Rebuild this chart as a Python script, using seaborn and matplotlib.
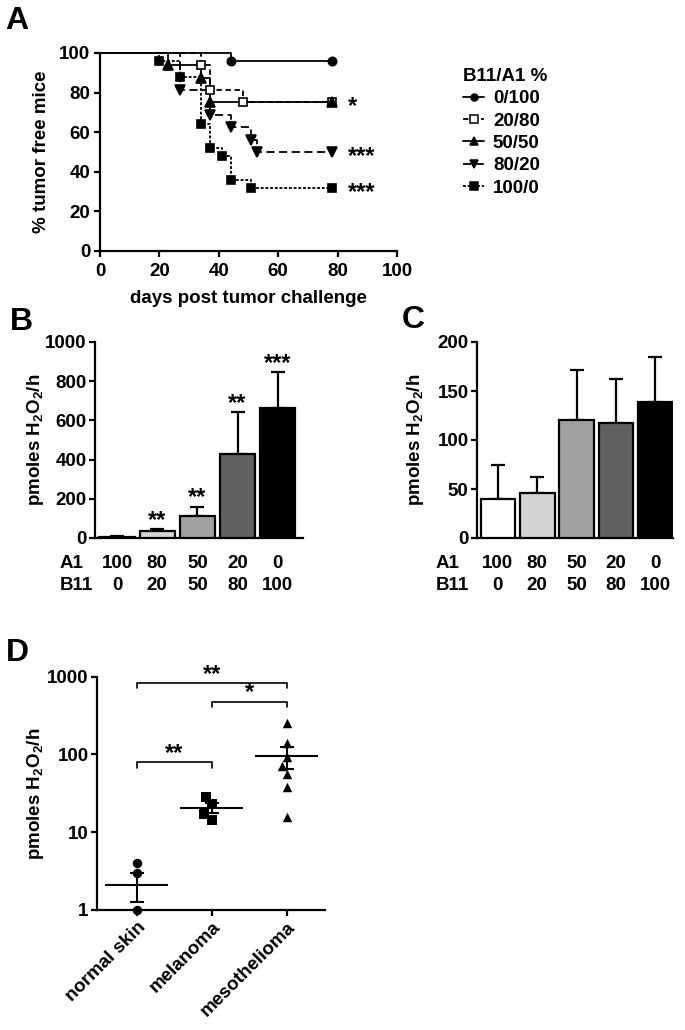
import numpy as np
import pandas as pd
import seaborn as sns
import matplotlib.pyplot as plt
from matplotlib.lines import Line2D

sns.set_style("ticks")
plt.rcParams['font.family'] = ['Liberation Sans', 'DejaVu Sans']
plt.rcParams['font.weight'] = 'bold'
plt.rcParams['axes.labelweight'] = 'bold'
plt.rcParams['mathtext.fontset'] = 'custom'
plt.rcParams['mathtext.rm'] = 'Liberation Sans:bold'
plt.rcParams['mathtext.default'] = 'rm'
for k in ['axes.edgecolor', 'text.color', 'axes.labelcolor', 'xtick.color', 'ytick.color']:
    plt.rcParams[k] = 'black'
plt.rcParams['axes.linewidth'] = 1.6
plt.rcParams['xtick.major.width'] = 1.6
plt.rcParams['ytick.major.width'] = 1.6
plt.rcParams['xtick.major.size'] = 4
plt.rcParams['ytick.major.size'] = 4

# ---- panel A: survival curves (Kaplan-Meier steps)
groups = ["0/100", "20/80", "50/50", "80/20", "100/0"]
days_0_100 = [0, 44, 78]
surv_0_100 = [100, 96, 96]
days_20_80 = [0, 34, 37, 48, 78]
surv_20_80 = [100, 93.75, 81.25, 75, 75]
days_50_50 = [0, 23, 34, 37, 78]
surv_50_50 = [100, 93.75, 87.5, 75, 75]
days_80_20 = [0, 27, 37, 44, 51, 53, 78]
surv_80_20 = [100, 81.25, 68.75, 62.5, 56.25, 50, 50]
days_100_0 = [0, 20, 27, 34, 37, 41, 44, 51, 78]
surv_100_0 = [100, 96, 88, 64, 52, 48, 36, 32, 32]
a_stars = {"20/80": "*", "80/20": "***", "100/0": "***"}

# ---- panel B / C: H2O2 production per cell mix
a1_pct = [100, 80, 50, 20, 0]
b11_pct = [0, 20, 50, 80, 100]
b_mean = [5, 35, 112, 428, 665]
b_sem = [4, 9, 45, 213, 180]
b_stars = ["", "**", "**", "**", "***"]
c_mean = [40, 45.5, 120, 117.5, 139]
c_sem = [34, 16.5, 51, 44.5, 46]

# ---- panel D: tissues
tissues = ["normal skin", "melanoma", "mesothelioma"]
normal_skin = [4.0, 3.0, 1.0]
melanoma = [28.6, 23.0, 17.0, 14.4]
mesothelioma = [256, 139, 92, 71, 56, 38.5, 15.5]
d_mean = [2.1, 20.6, 95.4]
d_sem = [0.85, 3.0, 30.0]
brackets = [(0, 2, 820, "**"), (1, 2, 475, "*"), (0, 1, 79, "**")]

W, H = 685, 1030
fig = plt.figure(figsize=(6.85, 10.3), dpi=100)


def px_axes(left, top, right, bottom):
    return fig.add_axes([left / W, 1 - bottom / H, (right - left) / W, (bottom - top) / H])


tick_fs = 13.5
lab_fs = 13.5
star_fs = 17

# ================= A =================
ax_a = px_axes(100, 53, 397, 251)
all_days = [days_0_100, days_20_80, days_50_50, days_80_20, days_100_0]
all_surv = [surv_0_100, surv_20_80, surv_50_50, surv_80_20, surv_100_0]
km = pd.DataFrame({
    'group': np.concatenate([[g] * len(d) for g, d in zip(groups, all_days)]),
    'day': np.concatenate(all_days),
    'surv': np.concatenate(all_surv),
})
dash_styles = {"0/100": "", "20/80": (3, 2), "50/50": "", "80/20": (4.5, 2.5), "100/0": (1.6, 1)}
sns.lineplot(data=km, x='day', y='surv', hue='group', style='group',
             hue_order=groups, style_order=groups, palette=['black'] * 5,
             dashes=dash_styles, estimator=None, sort=False, drawstyle='steps-post',
             linewidth=1.3, legend=False, clip_on=False, ax=ax_a)

marker_specs = {"0/100": ("o", "black", 6), "20/80": ("s", "white", 6.3),
                "50/50": ("^", "black", 6.5), "80/20": ("v", "black", 6.5),
                "100/0": ("s", "black", 6.3)}
for g, d, s in zip(groups, all_days, all_surv):
    m, fc, ms = marker_specs[g]
    ax_a.plot(d[1:], s[1:], ls='none', marker=m, mfc=fc, mec='black', ms=ms,
              mew=1.2, clip_on=False, zorder=4)
    if g in a_stars:
        ax_a.text(d[-1] + 5.5, s[-1] - 5.5, a_stars[g], fontsize=star_fs,
                  ha='left', va='baseline')

ax_a.set_xlim(0, 100)
ax_a.set_ylim(0, 100)
ax_a.set_xticks(range(0, 101, 20))
ax_a.set_yticks(range(0, 101, 20))
ax_a.tick_params(labelsize=tick_fs, pad=3)
ax_a.tick_params(axis='x', pad=5)
ax_a.set_xlabel("days post tumor challenge", fontsize=lab_fs)
ax_a.set_ylabel("% tumor free mice", fontsize=lab_fs)
ax_a.xaxis.set_label_coords(0.5, -0.195)
ax_a.yaxis.set_label_coords(-0.17, 0.5)
sns.despine(ax=ax_a)

handles = []
for g in groups:
    m, fc, ms = marker_specs[g]
    ds = dash_styles[g]
    h = Line2D([], [], color='black', lw=1.3, marker=m, mfc=fc, mec='black', ms=ms - 1, mew=1.1)
    if ds != "":
        h.set_dashes(ds)
    handles.append(h)
leg = fig.legend(handles, groups, loc='upper left', bbox_to_anchor=(446 / W, 1 - 51 / H),
                 frameon=False, title="B11/A1 %", fontsize=13.5,
                 title_fontproperties={'weight': 'bold', 'size': 13.5},
                 handlelength=1.15, labelspacing=0.28, handletextpad=0.45, alignment='left')

# ================= B and C =================
bar_colors = ['white', '#d4d4d4', '#a0a0a5', '#606060', 'black']
ylab_h2o2 = r"pmoles H$_2$O$_2$/h"


def bar_panel(ax, means, sems, stars, ymax, ystep, xlim, label_x):
    mixes = [f"{a}/{b}" for a, b in zip(a1_pct, b11_pct)]
    df = pd.DataFrame({'mix': mixes, 'val': means})
    sns.barplot(data=df, x='mix', y='val', hue='mix', palette=bar_colors,
                edgecolor='black', linewidth=1.6, width=0.88, legend=False,
                order=mixes, hue_order=mixes, ax=ax, zorder=3)
    ax.errorbar(range(len(means)), means, yerr=[np.zeros(len(means)), sems], fmt='none',
                ecolor='black', elinewidth=1.6, capsize=5, capthick=1.6, zorder=2)
    for i, (m, s, st) in enumerate(zip(means, sems, stars)):
        if st:
            ax.annotate(st, (i, m + s), xytext=(0, 2), textcoords='offset points',
                        ha='center', va='baseline', fontsize=star_fs)
    ax.set_xlim(*xlim)
    ax.set_ylim(0, ymax)
    ax.set_yticks(np.arange(0, ymax + 1, ystep))
    ax.set_xticks([])
    ax.set_xlabel("")
    ax.set_ylabel(ylab_h2o2, fontsize=lab_fs)
    ax.tick_params(labelsize=tick_fs, pad=2)
    sns.despine(ax=ax)
    for i, (a, b) in enumerate(zip(a1_pct, b11_pct)):
        ax.text(i, -0.128, str(a), transform=ax.get_xaxis_transform(), ha='center',
                va='center', fontsize=tick_fs)
        ax.text(i, -0.24, str(b), transform=ax.get_xaxis_transform(), ha='center',
                va='center', fontsize=tick_fs)
    ax.text(label_x, -0.128, "A1", transform=ax.transAxes, ha='left', va='center', fontsize=tick_fs)
    ax.text(label_x, -0.24, "B11", transform=ax.transAxes, ha='left', va='center', fontsize=tick_fs)


ax_b = px_axes(95, 342, 303, 538)
bar_panel(ax_b, b_mean, b_sem, b_stars, 1000, 200, (-0.55, 4.63), (60 - 95) / 208)
ax_b.yaxis.set_label_coords(-0.235, 0.5)

ax_c = px_axes(477, 342, 673, 538)
bar_panel(ax_c, c_mean, c_sem, [""] * 5, 200, 50, (-0.53, 4.45), (436 - 477) / 196)
ax_c.yaxis.set_label_coords(-0.26, 0.5)

# ================= D =================
ax_d = px_axes(97, 676.7, 325, 910)
ax_d.set_yscale('log')
d_vals = [normal_skin, melanoma, mesothelioma]
d_markers = ['o', 's', '^']
for t, vals, m in zip(tissues, d_vals, d_markers):
    sub = pd.DataFrame({'tissue': [t] * len(vals), 'val': vals})
    sns.swarmplot(data=sub, x='tissue', y='val', order=tissues, marker=m,
                  color='black', size=6.8, ax=ax_d, clip_on=False, zorder=3)
xs = np.arange(len(tissues))
ax_d.hlines(d_mean, xs - 0.42, xs + 0.42, color='black', lw=1.5, zorder=2)
ax_d.errorbar(xs, d_mean, yerr=d_sem, fmt='none', ecolor='black', elinewidth=1.5,
              capsize=5, capthick=1.5, zorder=2)
for x0, x1, yb, st in brackets:
    ax_d.plot([x0, x0, x1, x1], [yb * 0.86, yb, yb, yb * 0.86], color='black', lw=1.2,
              clip_on=False)
    ax_d.annotate(st, ((x0 + x1) / 2, yb), xytext=(0, 2), textcoords='offset points',
                  ha='center', va='baseline', fontsize=star_fs)
ax_d.set_ylim(1, 1000)
ax_d.set_xlim(-0.53, 2.51)
ax_d.set_yticks([1, 10, 100, 1000])
ax_d.set_yticklabels(["1", "10", "100", "1000"])
ax_d.minorticks_off()
ax_d.tick_params(labelsize=tick_fs, pad=2)
ax_d.set_xticks(xs)
ax_d.set_xticklabels(tissues, rotation=45, ha='right', rotation_mode='anchor')
ax_d.set_xlabel("")
ax_d.set_ylabel(ylab_h2o2, fontsize=lab_fs)
ax_d.yaxis.set_label_coords(-0.225, 0.5)
sns.despine(ax=ax_d)

# panel letters
for letter, (x, y) in zip("ABCD", [(17, 21), (21, 322), (413, 320), (17, 653)]):
    fig.text(x / W, 1 - y / H, letter, fontsize=23, weight='bold', ha='center', va='center')

fig.savefig("out.png", dpi=100)
